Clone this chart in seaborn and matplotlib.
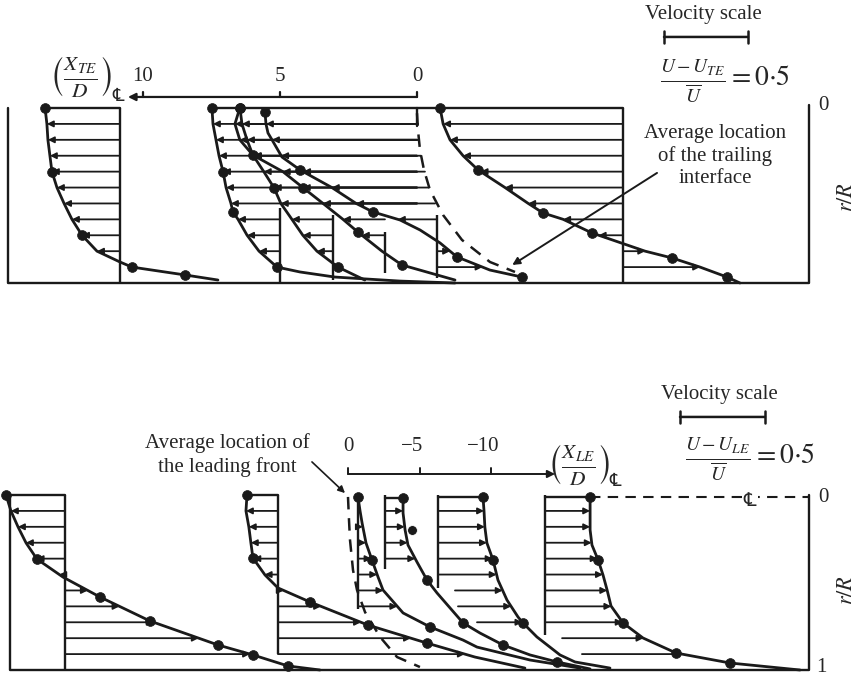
import numpy as np
import matplotlib
matplotlib.use('Agg')
import matplotlib.pyplot as plt
import seaborn as sns

# ------------------------------------------------------------------ data
ROWS = np.arange(11) / 11.0            # measuring stations r/R

# ---- upper panel : trailing edge, X_TE/D ---------------------------------
top_ticks = [0, 5, 10]
top_tick_labels = ['0', '5', '10']

p1_X = 10.84
p1_r = [0, .091, .182, .273, .364, .455, .545, .636, .727, .818, .88, .909, .954, .983]
p1_v = [-.446, -.435, -.429, -.417, -.405, -.375, -.333, -.286, -.226, -.137, 0.0, .071, .387, .583]
p1_marks = [0, 4, 8, 11, 12]

pa_X = 5.0
pa_r = [0, .091, .182, .273, .364, .455, .545, .594, .636, .727, .818, .909, .937, .966, .989, 1.0]
pa_v = [-.405, -.399, -.381, -.363, -.339, -.321, -.292, -.280, -.250, -.196, -.125, -.018, .119, .327, .714, 1.042]
pa_marks = [0, 4, 7, 11]

pb1_X = 3.07
pb1_r = [0, .091, .182, .269, .364, .455, .545, .636, .727, .818, .909, .983]
pb1_v = [-.554, -.583, -.554, -.476, -.411, -.351, -.310, -.244, -.179, -.095, .030, .190]
pb1_marks = [0, 3, 5, 10]

pb2_X = 1.17
pb2_r = [0, .091, .182, .269, .364, .455, .545, .636, .709, .818, .897, .983]
pb2_v = [-.863, -.851, -.821, -.786, -.607, -.488, -.369, -.250, -.161, -.018, .101, .417]
pb2_marks = [0, 5, 8, 10]

pc_X = -0.73
pc_r = [.023, .091, .143, .182, .280, .354, .455, .545, .594, .640, .697, .771, .851, .926, .966]
pc_v = [-1.024, -1.018, -1.006, -.982, -.923, -.815, -.625, -.482, -.381, -.220, -.101, .018, .119, .315, .506]
pc_marks = [0, 5, 8, 12, 14]
pc_row_starts = [-0.04, -0.07, -0.15, -0.29, -0.44, -0.66]   # rows 1..6 start on the interface

p5_X = -7.52
p5_r = [0, .091, .182, .273, .354, .455, .545, .6, .636, .714, .818, .857, .909, .966, 1.0]
p5_v = [-1.089, -1.071, -1.030, -.952, -.863, -.702, -.565, -.476, -.357, -.185, .131, .292, .458, .619, .696]
p5_marks = [0, 4, 7, 9, 11, 13]

trail_r = [.03, .126, .24, .354, .469, .611, .754, .88, .937]
trail_X = [0, -.036, -.109, -.255, -.474, -.949, -1.642, -2.664, -3.577]

# ---- lower panel : leading edge, X_LE/D ----------------------------------
bot_ticks = [0, -5, -10]
bot_tick_labels = ['0', '\u22125', '\u221210']

q1_X = 19.79
q1_r = [0, .091, .183, .274, .366, .469, .583, .72, .857, .914, .977, 1.0]
q1_v = [-.347, -.318, -.276, -.229, -.165, -.012, .206, .500, .900, 1.106, 1.312, 1.5]
q1_marks = [0, 4, 6, 7, 8, 9, 10]

q2_X = 4.90
q2_r = [0, .091, .183, .274, .36, .457, .531, .611, .743, .846, .926, .989]
q2_v = [-.182, -.188, -.171, -.159, -.147, -.076, 0.0, .188, .529, .876, 1.159, 1.453]
q2_marks = [0, 4, 7, 8, 9]

q3_X = -0.70
q3_r = [.011, .091, .16, .274, .371, .469, .543, .674, .754, .829, .869, .943, .989]
q3_v = [0, .012, .024, .047, .082, .118, .147, .265, .424, .618, .700, 1.012, 1.306]
q3_marks = [0, 4, 8]

q4_X = -2.59
q4_r = [.017, .103, .2, .286, .383, .486, .56, .731, .789, .857, .914, .954, .994]
q4_v = [.106, .106, .118, .135, .188, .247, .306, .459, .559, .694, .853, 1.012, 1.206]
q4_marks = [0, 5, 7, 9, 11]
q4_extra_r = [.2]
q4_extra_v = [.159]

q5_X = -6.29
q5_r = [.011, .091, .183, .274, .371, .486, .6, .697, .731, .811, .914, .954, .989]
q5_v = [.265, .271, .276, .288, .324, .353, .406, .471, .5, .582, .718, .806, 1.012]
q5_marks = [0, 4, 8]
q5_row_starts = [-7.48, -7.69, -9.02]        # rows 6..8

q6_X = -13.78
q6_r = [.011, .091, .2, .286, .371, .457, .543, .634, .731, .817, .903, .96, 1.0]
q6_v = [.265, .265, .265, .276, .312, .341, .365, .388, .459, .576, .771, 1.088, 1.5]
q6_marks = [0, 4, 8, 10, 11]
q6_row_starts = [-14.97, -16.36]             # rows 9..10

lead_r = [.011, .143, .257, .429, .543, .669, .811, .926, .983]
lead_X = [0, -.07, -.14, -.35, -.63, -1.19, -2.24, -3.43, -5.03]

VEL_SCALE = 0.5

# ------------------------------------------------------------------ layout
W, H = 863, 676
sns.set_theme(style='white')
plt.rcParams['font.family'] = ['Liberation Serif', 'DejaVu Serif', 'DejaVu Sans']
plt.rcParams['mathtext.fontset'] = 'stix'

fig = plt.figure(figsize=(W / 100, H / 100), dpi=100)
fig.patch.set_facecolor('white')


def panel(x0_px, px_per_x, y0_px, px_per_r, ytop_px, ybot_px):
    ax = fig.add_axes([0, 1 - ybot_px / H, 1, (ybot_px - ytop_px) / H])
    ax.set_xlim(x0_px / px_per_x, (x0_px - W) / px_per_x)
    ax.set_ylim((ybot_px - y0_px) / px_per_r, (ytop_px - y0_px) / px_per_r)
    ax.axis('off')
    return ax


axT = panel(417, 27.4, 108, 175, 20, 320)
axB = panel(348, 14.3, 495, 175, 330, 676)
K_T = 168 / 27.4       # X/D units per unit velocity, upper panel
K_B = 170 / 14.3       # lower panel

LW_C, LW_A, LW_F = 2.0, 1.3, 1.7


def arrow(ax, start, tip, r, ms=9, lw=LW_A):
    ax.annotate('', xy=(tip, r), xytext=(start, r),
                arrowprops=dict(arrowstyle='-|>', lw=lw, color='k',
                                shrinkA=0, shrinkB=0, mutation_scale=ms))


def profile(ax, K, base, span, r, v, marks, rows=(), starts=None, top_line=True):
    r = np.asarray(r, float)
    v = np.asarray(v, float)
    xc = base - K * v
    sns.lineplot(x=xc, y=r, sort=False, estimator=None, color='k', lw=LW_C, ax=ax)
    ax.plot([base, base], span, color='k', lw=LW_F, solid_capstyle='butt')
    sns.scatterplot(x=xc[marks], y=r[marks], color='k', s=50, edgecolor='k',
                    linewidth=0.5, ax=ax, zorder=6, legend=False)
    if top_line:
        ax.plot([base, xc[0]], [r[0], r[0]], color='k', lw=LW_F)
    if starts is None:
        starts = [base] * len(rows)
    for k, s in zip(rows, starts):
        rr = ROWS[k]
        tip = base - K * np.interp(rr, r, v)
        if abs(tip - s) * (27.4 if K == K_T else 14.3) < 4:
            continue
        arrow(ax, s, tip, rr)
    return xc


# ------------------------------------------------------------------ upper panel
ax = axT
frame_L, frame_R = (417 - 8) / 27.4, (417 - 809) / 27.4
ax.plot([frame_L, frame_L, frame_R, frame_R], [0, 1, 1, -0.017], color='k', lw=LW_F)

profile(ax, K_T, p1_X, (0, 1), p1_r, p1_v, p1_marks, rows=range(1, 10))
xa = profile(ax, K_T, pa_X, (0.57, 1), pa_r, pa_v, pa_marks,
             rows=list(range(1, 10)), starts=[0] * 6 + [pa_X] * 3, top_line=False)
profile(ax, K_T, pb1_X, (0.61, 0.98), pb1_r, pb1_v, pb1_marks,
        rows=list(range(1, 10)), starts=[0] * 6 + [pb1_X] * 3, top_line=False)
profile(ax, K_T, pb2_X, (0.71, 0.94), pb2_r, pb2_v, pb2_marks,
        rows=list(range(1, 9)), starts=[0] * 6 + [pb2_X] * 2, top_line=False)
profile(ax, K_T, pc_X, (0.61, 0.97), pc_r, pc_v, pc_marks,
        rows=[1, 2, 3, 4, 5, 6, 7, 9, 10], starts=pc_row_starts + [pc_X] * 3, top_line=False)
profile(ax, K_T, p5_X, (0, 1), p5_r, p5_v, p5_marks, rows=range(1, 11), top_line=False)
ax.plot([xa[0], p5_X], [0, 0], color='k', lw=LW_F)
ax.plot([0, 0], [0, 0.1], color='k', lw=LW_F)
ax.plot(trail_X, trail_r, color='k', lw=1.8, ls=(0, (5, 3.5)))

# X_TE/D axis
r_ax = -0.063
ax.annotate('', xy=(10.55, r_ax), xytext=(0, r_ax),
            arrowprops=dict(arrowstyle='-|>', lw=1.6, color='k', shrinkA=0, shrinkB=0,
                            mutation_scale=11))
for t, lab in zip(top_ticks, top_tick_labels):
    ax.plot([t, t], [r_ax, r_ax - 0.03], color='k', lw=1.6)
    ax.annotate(lab, xy=(t, r_ax), xytext=(0, 14.5), textcoords='offset points',
                ha='center', va='center', fontsize=15)

# velocity scale
vx0, vr = (417 - 664) / 27.4, -0.406
ax.annotate('', xy=(vx0 - K_T * VEL_SCALE, vr), xytext=(vx0, vr),
            arrowprops=dict(arrowstyle='|-|', lw=1.8, color='k', shrinkA=0, shrinkB=0,
                            mutation_scale=4))

# annotation arrow to trailing interface
ax.annotate('', xy=(trail_X[-1] + 0.1, 0.897), xytext=(-8.76, 0.371),
            arrowprops=dict(arrowstyle='-|>', lw=1.4, color='k', shrinkA=0, shrinkB=0,
                            mutation_scale=11))

# ------------------------------------------------------------------ lower panel
ax = axB
frame_L, frame_R = (348 - 10) / 14.3, (348 - 809) / 14.3
ax.plot([frame_L, frame_L, frame_R, frame_R], [0, 1, 1, 0], color='k', lw=LW_F)

profile(ax, K_B, q1_X, (0, 1), q1_r, q1_v, q1_marks, rows=range(1, 11))
profile(ax, K_B, q2_X, (0, 0.91), q2_r, q2_v, q2_marks, rows=range(1, 11))
profile(ax, K_B, q3_X, (0, 0.65), q3_r, q3_v, q3_marks, rows=range(1, 8), top_line=False)
profile(ax, K_B, q4_X, (0, 0.42), q4_r, q4_v, q4_marks, rows=range(1, 5))
sns.scatterplot(x=q4_X - K_B * np.asarray(q4_extra_v), y=q4_extra_r, color='k', s=50,
                ax=ax, zorder=6, legend=False)
profile(ax, K_B, q5_X, (0, 0.53), q5_r, q5_v, q5_marks,
        rows=range(1, 9), starts=[q5_X] * 5 + q5_row_starts)
xq6 = profile(ax, K_B, q6_X, (0, 0.80), q6_r, q6_v, q6_marks,
              rows=range(1, 11), starts=[q6_X] * 8 + q6_row_starts)
ax.plot(lead_X, lead_r, color='k', lw=1.8, ls=(0, (5, 3.5)))
ax.plot([xq6[0], frame_R], [0.011, 0.011], color='k', lw=1.5, ls=(0, (5, 3.5)))

r_ax = -0.12
ax.annotate('', xy=(-14.48, r_ax), xytext=(0, r_ax),
            arrowprops=dict(arrowstyle='-|>', lw=1.4, color='k', shrinkA=0, shrinkB=0,
                            mutation_scale=11))
for t, lab in zip(bot_ticks, bot_tick_labels):
    ax.plot([t, t], [r_ax, r_ax - 0.035], color='k', lw=1.4)
    ax.annotate(lab, xy=(t, r_ax), xytext=(-5.5 if t else 0, 20), textcoords='offset points',
                ha='center', va='center', fontsize=15)

vx0, vr = (348 - 680) / 14.3, -0.446
ax.annotate('', xy=(vx0 - K_B * VEL_SCALE, vr), xytext=(vx0, vr),
            arrowprops=dict(arrowstyle='|-|', lw=1.8, color='k', shrinkA=0, shrinkB=0,
                            mutation_scale=4))

ax.annotate('', xy=(0.21, -0.011), xytext=(2.52, -0.189),
            arrowprops=dict(arrowstyle='-|>', lw=1.2, color='k', shrinkA=0, shrinkB=0,
                            mutation_scale=10))

# ------------------------------------------------------------------ text
def T(x, y, s, **kw):
    kw.setdefault('ha', 'center')
    kw.setdefault('va', 'center')
    kw.setdefault('fontsize', 14)
    fig.text(x / W, 1 - y / H, s, **kw)


CL = '\u2104'
T(703, 15, 'Velocity scale', fontsize=15)
T(725, 82, r'$\frac{U-U_{TE}}{\overline{U}}=0{\cdot}5$', fontsize=20)
T(80, 77, r'$\left(\frac{X_{TE}}{D}\right)$', fontsize=22)
T(118, 96, CL, fontsize=13, family=['DejaVu Sans'])
T(823, 106, '0', fontsize=15)
T(847, 197, r'$r/R$', rotation=90, fontsize=16)
T(715, 156, 'Average location\nof the trailing\ninterface', linespacing=1.22, fontsize=15)

T(719, 395, 'Velocity scale', fontsize=15)
T(750, 460, r'$\frac{U-U_{LE}}{\overline{U}}=0{\cdot}5$', fontsize=20)
T(578, 465, r'$\left(\frac{X_{LE}}{D}\right)$', fontsize=22)
T(615, 481, CL, fontsize=13, family=['DejaVu Sans'])
T(750, 500, CL, fontsize=14, family=['DejaVu Sans'],
  bbox=dict(facecolor='white', edgecolor='none', pad=1))
T(823, 497, '0', fontsize=15)
T(821, 668, '1', fontsize=15)
T(847, 590, r'$r/R$', rotation=90, fontsize=16)
T(227, 455, 'Average location of\nthe leading front', linespacing=1.22, fontsize=15)

fig.savefig('out.png', dpi=100, facecolor='white')
